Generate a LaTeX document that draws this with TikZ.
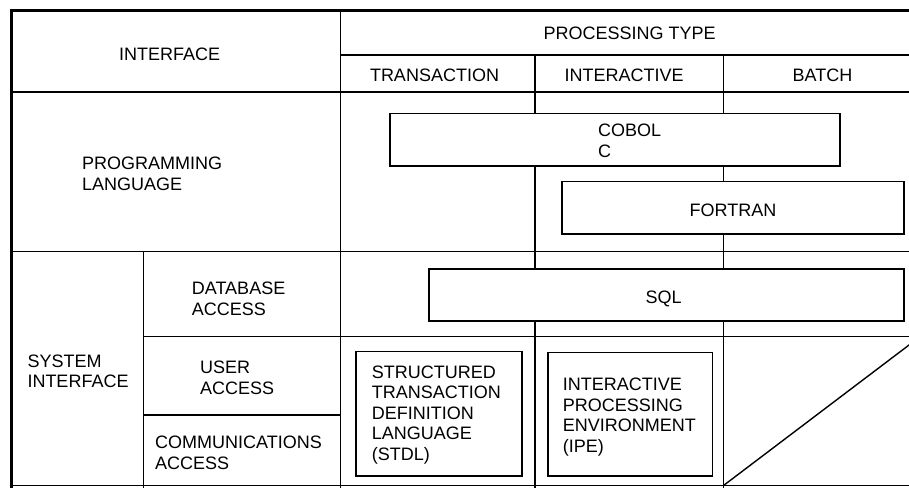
\documentclass[tikz,border=0pt]{standalone}
\usepackage{fontspec}
\setmainfont{Liberation Sans}
\begin{document}
\begin{tikzpicture}[x=1pt,y=-1pt,
  gridline/.style={line width=1.4pt},
  frameline/.style={line width=3pt},
  langbox/.style={draw,line width=1.5pt,fill=white,rectangle,inner sep=0pt,anchor=north west},
  lbl/.style={font=\fontsize{18}{20.4}\selectfont,inner sep=0pt,align=left}]
\useasboundingbox (0,0) rectangle (909,487);
\begin{scope}
  \clip (0,0) rectangle (909,487);
  % table rules
  \draw[gridline] (340.5,55) -- (920,55);
  \draw[gridline] (10,92) -- (920,92);
  \draw[gridline] (10,251.5) -- (920,251.5);
  \draw[gridline] (143.3,336.7) -- (920,336.7);
  \draw[gridline] (143.3,415) -- (340.5,415);
  \draw[gridline] (10,485.5) -- (920,485.5);
  \draw[gridline] (340.5,10) -- (340.5,490);
  \draw[gridline] (143.3,251.5) -- (143.3,490);
  \draw[gridline] (535,55) -- (535,490);
  \draw[gridline] (723.5,55) -- (723.5,490);
  % outer frame (top and left)
  \draw[frameline] (10,11) -- (920,11);
  \draw[frameline] (11.5,10) -- (11.5,490);
  % empty batch cell
  \coordinate (bl) at (723.5,485.5);
  \coordinate (tr) at (920,336.7);
  \draw[gridline] (bl) -- (tr);
\end{scope}

% language / interface boxes
\node[langbox,minimum width=450,minimum height=52.3] (cobol) at (389,112.7) {};
\node[langbox,minimum width=342,minimum height=52.6] (fortran) at (561,180.7) {};
\node[langbox,minimum width=474.7,minimum height=51.7] (sql) at (428.3,268.3) {};
\node[langbox,minimum width=166,minimum height=124.3] (stdl) at (355,350.7) {};
\node[langbox,minimum width=164.4,minimum height=123.3] (ipe) at (547.3,351.7) {};

% header labels
\node[lbl,anchor=base] (hif) at (169.7,60) {INTERFACE};
\node[lbl,anchor=base] (hpt) at (629.7,40) {PROCESSING TYPE};
\node[lbl,anchor=base] (htr) at (434.5,81.7) {TRANSACTION};
\node[lbl,anchor=base] (hin) at (624,81.7) {INTERACTIVE};
\node[lbl,anchor=base] (hba) at (822.5,81.7) {BATCH};

% row labels (anchored on the baseline of their last line)
\node[lbl,anchor=base west] (rpl) at (82,190) {PROGRAMMING\\LANGUAGE};
\node[lbl,anchor=base west] (rdb) at (191.7,315) {DATABASE\\ACCESS};
\node[lbl,anchor=base west] (rsi) at (27.3,387.5) {SYSTEM\\INTERFACE};
\node[lbl,anchor=base west] (rua) at (200,394) {USER\\ACCESS};
\node[lbl,anchor=base west] (rca) at (155,469.3) {COMMUNICATIONS\\ACCESS};

% box contents
\node[lbl,anchor=base west] (tcobol) at (598,157) {COBOL\\C};
\node[lbl,anchor=base] (tfortran) at (733,216) {FORTRAN};
\node[lbl,anchor=base] (tsql) at (663.7,303.3) {SQL};
\node[lbl,anchor=base west] (tstdl) at (371.7,460) {STRUCTURED\\TRANSACTION\\DEFINITION\\LANGUAGE\\(STDL)};
\node[lbl,anchor=base west] (tipe) at (562.7,452) {INTERACTIVE\\PROCESSING\\ENVIRONMENT\\(IPE)};
\end{tikzpicture}
\end{document}
